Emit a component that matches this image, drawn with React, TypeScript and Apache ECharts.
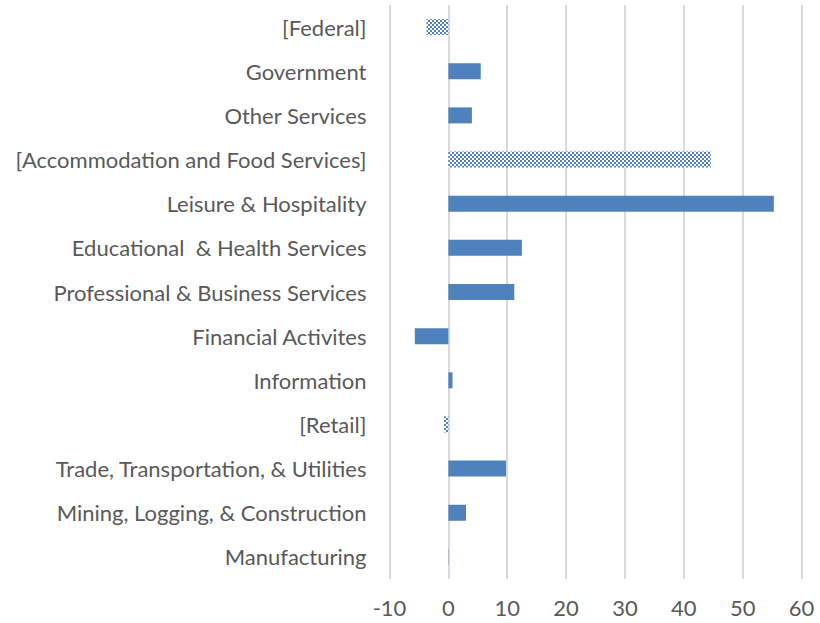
import React, { useEffect, useRef } from "react";
import * as echarts from "echarts";

const categories = [
  "Manufacturing",
  "Mining, Logging, & Construction",
  "Trade, Transportation, & Utilities",
  "[Retail]",
  "Information",
  "Financial Activites",
  "Professional & Business Services",
  "Educational  & Health Services",
  "Leisure & Hospitality",
  "[Accommodation and Food Services]",
  "Other Services",
  "Government",
  "[Federal]",
];

const values = [0.05, 3.0, 9.8, -0.75, 0.7, -5.7, 11.2, 12.5, 55.3, 44.6, 4.0, 5.5, -3.7];

const patterned = [false, false, false, true, false, false, false, false, false, true, false, false, true];

const xTicks = { min: -10, max: 60, interval: 10 };

const BLUE = "#4f81bd";
const FONT = "Lato";
const FS = 22;

function makeChecker(): string {
  const c = document.createElement("canvas");
  c.width = 4;
  c.height = 4;
  const ctx = c.getContext("2d")!;
  ctx.fillStyle = "#ffffff";
  ctx.fillRect(0, 0, 4, 4);
  ctx.fillStyle = BLUE;
  ctx.fillRect(0, 0, 2, 2);
  ctx.fillRect(2, 2, 2, 2);
  return c.toDataURL();
}

export default function App() {
  const ref = useRef<HTMLDivElement>(null);
  useEffect(() => {
    if (!ref.current) return;
    const chart = echarts.init(ref.current, undefined, { renderer: "svg" });
    const checker = makeChecker();
    const data = values.map((v, i) => ({
      value: v,
      itemStyle: patterned[i]
        ? { color: { image: checker, repeat: "repeat" } as any }
        : { color: BLUE },
    }));
    chart.setOption({
      animation: false,
      grid: { left: 389.5, right: 18.5, top: 5, bottom: 44, containLabel: false },
      xAxis: {
        type: "value",
        min: xTicks.min,
        max: xTicks.max,
        interval: xTicks.interval,
        axisLine: { show: false },
        axisTick: { show: false },
        axisLabel: {
          color: "#595959",
          fontSize: FS,
          fontFamily: FONT,
          margin: 17,
        },
        splitLine: { show: true, lineStyle: { color: "#d9d9d9", width: 2 } },
      },
      yAxis: {
        type: "category",
        data: categories,
        axisLine: { show: false },
        axisTick: { show: false },
        axisLabel: {
          color: "#595959",
          fontSize: FS,
          fontFamily: FONT,
          margin: 23,
        },
      },
      series: [
        {
          type: "bar",
          data,
          barWidth: 16,
          itemStyle: { borderWidth: 0 },
        },
      ],
    });
    return () => chart.dispose();
  }, []);
  return (
    <div
      ref={ref}
      style={{ position: "fixed", left: 0, top: 0, width: 820, height: 623, background: "#fff" }}
    />
  );
}
